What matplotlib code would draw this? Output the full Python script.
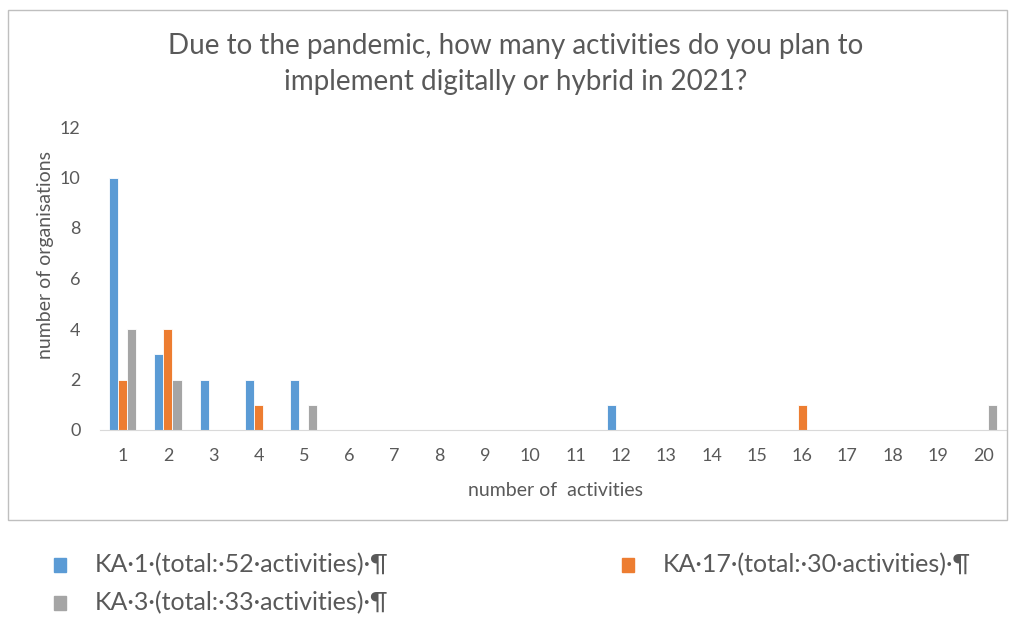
import numpy as np
import matplotlib.pyplot as plt
from matplotlib.patches import Rectangle

plt.rcParams['font.family'] = ['Lato', 'DejaVu Sans']

# data
categories = list(range(1, 21))
ka1 = [10, 3, 2, 2, 2, 0, 0, 0, 0, 0, 0, 1, 0, 0, 0, 0, 0, 0, 0, 0]
ka17 = [2, 4, 0, 1, 0, 0, 0, 0, 0, 0, 0, 0, 0, 0, 0, 1, 0, 0, 0, 0]
ka3 = [4, 2, 0, 0, 1, 0, 0, 0, 0, 0, 0, 0, 0, 0, 0, 0, 0, 0, 0, 1]
labels = ['KA·1·(total:·52·activities)·¶',
          'KA·17·(total:·30·activities)·¶',
          'KA·3·(total:·33·activities)·¶']
colors = ['#5B9BD5', '#ED7D31', '#A5A5A5']
text_color = '#595959'

W, H = 1009, 618
fig = plt.figure(figsize=(W / 100, H / 100), dpi=100)
ax = fig.add_axes([100 / W, 1 - 430 / H, 906 / W, 303 / H])

x = np.array(categories)
w = 0.2
for vals, off, c in zip([ka1, ka17, ka3], [-w, 0, w], colors):
    v = np.array(vals)
    m = v > 0
    ax.bar(x[m] + off, v[m], width=w, color=c, edgecolor='white', linewidth=0.6)

ax.set_xlim(0.5, 20.5)
ax.set_ylim(0, 12)
ax.set_xticks(categories)
ax.set_yticks(range(0, 13, 2))
ax.tick_params(axis='both', length=0, labelsize=13, colors=text_color)
ax.tick_params(axis='x', pad=13)
ax.tick_params(axis='y', pad=14)
for s in ['top', 'right', 'left']:
    ax.spines[s].set_visible(False)
ax.spines['bottom'].set_color('#D9D9D9')
ax.set_xlabel('number of  activities', fontsize=14, color=text_color, va='center')
ax.set_ylabel('number of organisations', fontsize=14, color=text_color, va='center')
ax.xaxis.set_label_coords((555 - 100) / 906, (430 - 491) / 303)
ax.yaxis.set_label_coords((46 - 100) / 906, (430 - 255) / 303)

# chart border
fig.patches.append(Rectangle((8 / W, 1 - 520 / H), 999 / W, 510 / H,
                             transform=fig.transFigure, fill=False,
                             edgecolor='#BFBFBF', linewidth=1))

fig.text(516 / W, 1 - 64 / H,
         'Due to the pandemic, how many activities do you plan to\nimplement digitally or hybrid in 2021?',
         ha='center', va='center', fontsize=20, color=text_color, linespacing=1.45)

# legend below the box
leg_pos = [(60, 565), (628, 565), (60, 603)]
for (lx, ly), lab, c in zip(leg_pos, labels, colors):
    fig.patches.append(Rectangle(((lx - 6) / W, 1 - (ly + 7) / H), 12 / W, 14 / H,
                                 transform=fig.transFigure, color=c))
    fig.text((lx + 35) / W, 1 - ly / H, lab, ha='left', va='center',
             fontsize=18, color=text_color)

fig.savefig('out.png', dpi=100)
